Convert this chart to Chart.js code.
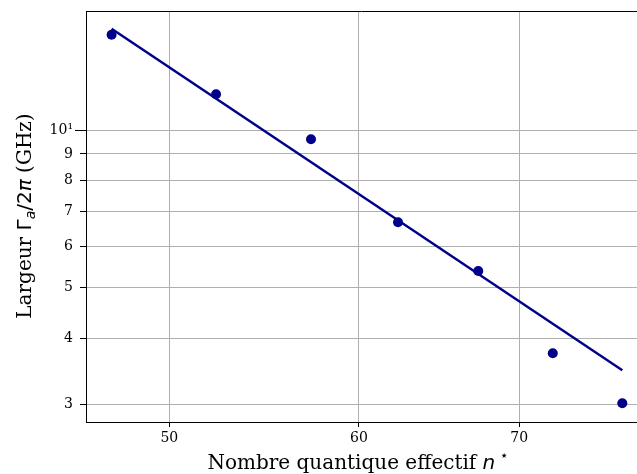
<!DOCTYPE html>
<html lang="fr">
<head>
<meta charset="UTF-8">
<title>Largeur en fonction de n*</title>
<script src="https://cdn.jsdelivr.net/npm/chart.js"></script>
<style>
    body { margin: 0; background: #fff; }
    #wrap { width: 637px; height: 474px; }
</style>
</head>
<body>
<div id="wrap"><canvas id="chart" width="637" height="474"></canvas></div>
<script>
// donnees
var nStar = [47.3, 52.3, 57.3, 62.3, 67.3, 72.3, 77.3];
var largeur = [15.2, 11.7, 9.6, 6.67, 5.38, 3.75, 3.01];
// ajustement (loi de puissance), deux extremites
var fitX = [47.3, 77.3];
var fitY = [15.6, 3.48];
var xTicks = [50, 60, 70];
var yTicks = [3, 4, 5, 6, 7, 8, 9, 10];
var yMajor = [10];

var NAVY = '#00008b';
var TICK_FONT = { family: 'DejaVu Serif', size: 14 };

function pts(xs, ys) {
    return xs.map(function(x, i) { return { x: x, y: ys[i] }; });
}

// dessine un texte compose de morceaux (polices differentes), centre sur x
function drawParts(ctx, parts, x, y) {
    var total = 0;
    parts.forEach(function(p) { ctx.font = p.font; total += ctx.measureText(p.text).width; });
    var cx = x - total / 2;
    parts.forEach(function(p) {
        ctx.font = p.font;
        ctx.fillText(p.text, cx, y + (p.dy || 0));
        cx += ctx.measureText(p.text).width;
    });
}

var framePlugin = {
    id: 'frame',
    afterDraw: function(chart) {
        var ctx = chart.ctx, a = chart.chartArea;
        ctx.save();
        ctx.strokeStyle = '#000';
        ctx.lineWidth = 1;
        ctx.beginPath();
        ctx.moveTo(a.left, a.top + 0.5);
        ctx.lineTo(a.right, a.top + 0.5);
        // graduation majeure (plus longue)
        yMajor.forEach(function(v) {
            var py = Math.round(chart.scales.y.getPixelForValue(v)) + 0.5;
            ctx.moveTo(a.left - 11, py);
            ctx.lineTo(a.left, py);
        });
        ctx.stroke();

        ctx.fillStyle = '#000';
        ctx.textBaseline = 'alphabetic';
        var F = 20;
        drawParts(ctx, [
            { text: 'Nombre quantique effectif ', font: F + 'px "DejaVu Serif"' },
            { text: 'n', font: 'italic ' + F + 'px "DejaVu Sans"' },
            { text: ' \u22c6', font: Math.round(F * 0.7) + 'px "DejaVu Sans"', dy: -F * 0.45 }
        ], 358, 469);

        ctx.translate(31, 216);
        ctx.rotate(-Math.PI / 2);
        drawParts(ctx, [
            { text: 'Largeur ', font: F + 'px "DejaVu Serif"' },
            { text: '\u0393', font: F + 'px "DejaVu Sans"' },
            { text: 'a', font: 'italic ' + Math.round(F * 0.7) + 'px "DejaVu Sans"', dy: F * 0.2 },
            { text: '/2', font: F + 'px "DejaVu Sans"' },
            { text: '\u03c0', font: 'italic ' + F + 'px "DejaVu Sans"' },
            { text: ' (GHz)', font: F + 'px "DejaVu Serif"' }
        ], 0, 0);
        ctx.restore();
    }
};

new Chart(document.getElementById('chart').getContext('2d'), {
    type: 'scatter',
    data: {
        datasets: [{
            type: 'line',
            data: pts(fitX, fitY),
            borderColor: NAVY,
            borderWidth: 2.5,
            pointRadius: 0,
            fill: false
        }, {
            data: pts(nStar, largeur),
            backgroundColor: NAVY,
            borderWidth: 0,
            pointRadius: 5
        }]
    },
    options: {
        responsive: false,
        animation: false,
        layout: { autoPadding: false, padding: { top: 11, right: 0, left: 0, bottom: 0 } },
        plugins: { legend: { display: false }, tooltip: { enabled: false } },
        scales: {
            x: {
                type: 'logarithmic',
                min: 46.15,
                max: 78.4,
                afterBuildTicks: function(s) { s.ticks = xTicks.map(function(v) { return { value: v }; }); },
                afterFit: function(s) { s.height = 52; },
                ticks: {
                    font: TICK_FONT, color: '#000', maxRotation: 0, autoSkip: false, padding: 3,
                    callback: function(v) { return String(v); }
                },
                grid: { color: '#b0b0b0', tickColor: '#000', tickLength: 5, lineWidth: 1 },
                border: { color: '#000', width: 1 }
            },
            y: {
                type: 'logarithmic',
                min: 2.772,
                max: 16.87,
                afterBuildTicks: function(s) { s.ticks = yTicks.map(function(v) { return { value: v }; }); },
                afterFit: function(s) { s.width = 86; s.paddingTop = 0; s.paddingBottom = 0; },
                ticks: {
                    font: TICK_FONT, color: '#000', autoSkip: false, padding: 7,
                    callback: function(v) { return v === 10 ? '10\u00b9' : String(v); }
                },
                grid: { color: '#b0b0b0', tickColor: '#000', tickLength: 6, lineWidth: 1 },
                border: { color: '#000', width: 1 }
            }
        }
    },
    plugins: [framePlugin]
});
</script>
</body>
</html>
